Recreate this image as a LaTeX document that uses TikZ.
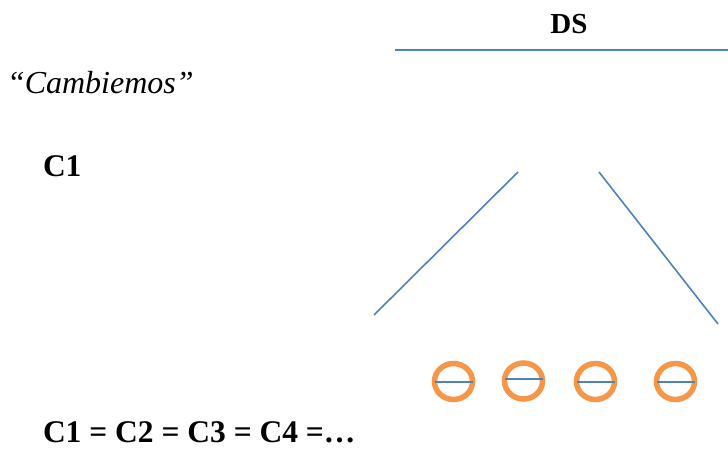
\documentclass[tikz,border=0pt]{standalone}
\usepackage{fontspec}
\setmainfont{Liberation Serif}
\usetikzlibrary{shapes.geometric}
\definecolor{lblue}{HTML}{4F81BD}
\definecolor{lorange}{HTML}{F79646}
\begin{document}
\begin{tikzpicture}[x=1pt,y=-1pt,
  txt/.style={inner sep=0pt,outer sep=0pt},
  bline/.style={draw=lblue,line width=1.6pt},
  ring/.style={ellipse,draw=lorange,line width=5.5pt,minimum width=38pt,minimum height=36pt,inner sep=0pt,outer sep=0pt},
  mid/.style={draw=lblue,line width=2pt}]
\useasboundingbox (0,0) rectangle (728,450);
\fill[white] (0,0) rectangle (728,450);
% texts
\node[txt,anchor=base,font=\fontsize{29}{34}\selectfont\bfseries] (ds) at (569,33) {DS};
\node[txt,anchor=base west,font=\fontsize{32}{38}\selectfont\itshape] (camb) at (7,93) {“Cambiemos”};
\node[txt,anchor=base west,font=\fontsize{31.5}{38}\selectfont\bfseries] (c1) at (43,176) {C1};
\node[txt,anchor=base west,font=\fontsize{31.5}{38}\selectfont\bfseries] (eq) at (43,442.5) {C1 = C2 = C3 = C4 =…};
% top rule
\coordinate (ra) at (395,50);
\coordinate (rb) at (728,50);
\draw[bline,line width=2pt] (ra) -- (rb);
% branches
\coordinate (la) at (518,172);
\coordinate (lb) at (374,315);
\coordinate (rta) at (599,172);
\coordinate (rtb) at (718,324);
\draw[bline] (la) -- (lb);
\draw[bline] (rta) -- (rtb);
% rings
\node[ring] (o1) at (453.5,381.5) {};
\node[ring] (o2) at (523.5,381) {};
\node[ring] (o3) at (595.5,381.5) {};
\node[ring] (o4) at (675.5,381.5) {};
\draw[mid] (o1.west) -- (o1.east);
\draw[mid] ([yshift=2pt]o2.west) -- ([yshift=2pt]o2.east);
\draw[mid] (o3.west) -- (o3.east);
\draw[mid] (o4.west) -- (o4.east);
\end{tikzpicture}
\end{document}
